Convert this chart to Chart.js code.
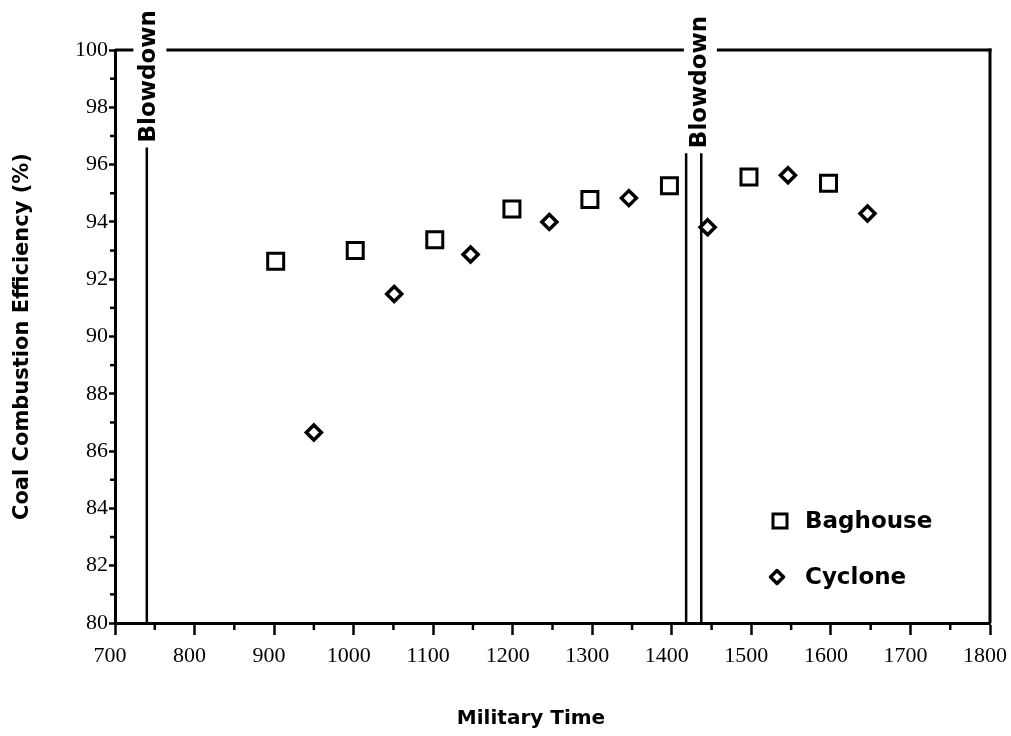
<!DOCTYPE html>
<html>
<head>
<meta charset="utf-8">
<script src="https://cdn.jsdelivr.net/npm/chart.js@4.4.0/dist/chart.umd.min.js"></script>
<style>
  body { margin: 0; background: #fff; }
  #wrap { width: 1011px; height: 736px; }
</style>
</head>
<body>
<div id="wrap"><canvas id="chart" width="1011" height="736"></canvas></div>
<script>
// axis ticks
const xTicks = [700, 800, 900, 1000, 1100, 1200, 1300, 1400, 1500, 1600, 1700, 1800];
const yTicks = [80, 82, 84, 86, 88, 90, 92, 94, 96, 98, 100];

// series
const seriesNames = ['Baghouse', 'Cyclone'];
const baghouseTime = [902, 1002, 1102, 1199, 1297, 1397, 1497, 1597];
const baghouseEff = [92.63, 93.0, 93.38, 94.45, 94.78, 95.26, 95.57, 95.35];
const cycloneTime = [950, 1051, 1147, 1246, 1346, 1445, 1546, 1646];
const cycloneEff = [86.65, 91.48, 92.86, 94.0, 94.83, 93.81, 95.63, 94.29];

// blowdown markers
const blowdownTime = [740, 1418, 1437];
const blowdownTop = [96.6, 96.4, 96.4];
const blowdownLabelTime = [742, 1434];
const blowdownLabelText = 'Blowdown';

const SANS = '"DejaVu Sans", sans-serif';
const SERIF = '"Liberation Serif", "Times New Roman", serif';

const toPts = (xs, ys) => xs.map((x, i) => ({ x: x, y: ys[i] }));

const blowdownSets = blowdownTime.map((t, i) => ({
  type: 'line',
  data: [{ x: t, y: 80 }, { x: t, y: blowdownTop[i] }],
  borderColor: '#000',
  borderWidth: 2.5,
  pointRadius: 0,
  showLine: true,
  fill: false
}));

const frame = {
  id: 'frame',
  afterDraw(chart) {
    const { ctx, chartArea: a, scales: { x, y } } = chart;
    ctx.save();
    ctx.strokeStyle = '#000';
    ctx.lineCap = 'butt';

    // minor ticks
    ctx.lineWidth = 2.5;
    for (let i = 0; i < xTicks.length - 1; i++) {
      const px = x.getPixelForValue((xTicks[i] + xTicks[i + 1]) / 2);
      ctx.beginPath(); ctx.moveTo(px, a.bottom); ctx.lineTo(px, a.bottom + 7); ctx.stroke();
    }
    for (let i = 0; i < yTicks.length - 1; i++) {
      const py = y.getPixelForValue((yTicks[i] + yTicks[i + 1]) / 2);
      ctx.beginPath(); ctx.moveTo(a.left - 5, py); ctx.lineTo(a.left, py); ctx.stroke();
    }

    // right border and broken top border
    ctx.lineWidth = 3;
    ctx.beginPath(); ctx.moveTo(a.right, a.top - 1.5); ctx.lineTo(a.right, a.bottom); ctx.stroke();
    const gaps = blowdownLabelTime.map(t => x.getPixelForValue(t));
    let sx = a.left;
    gaps.forEach(g => {
      ctx.beginPath(); ctx.moveTo(sx, a.top); ctx.lineTo(g - 15, a.top); ctx.stroke();
      sx = g + 18;
    });
    ctx.beginPath(); ctx.moveTo(sx, a.top); ctx.lineTo(a.right + 1.5, a.top); ctx.stroke();

    // blowdown labels
    ctx.fillStyle = '#000';
    ctx.font = 'bold 23px ' + SANS;
    ctx.textAlign = 'left';
    ctx.textBaseline = 'middle';
    blowdownLabelTime.forEach((t, i) => {
      const px = x.getPixelForValue(t);
      const top = i === 0 ? blowdownTop[0] : blowdownTop[1];
      const py = y.getPixelForValue(top) - 5;
      ctx.save();
      ctx.translate(px, py);
      ctx.rotate(-Math.PI / 2);
      ctx.fillText(blowdownLabelText, 0, 1);
      ctx.restore();
    });

    // legend
    ctx.font = 'bold 23px ' + SANS;
    ctx.lineWidth = 3;
    ctx.strokeRect(780 - 7, 521 - 7, 14, 14);
    ctx.fillText(seriesNames[0], 805, 522);
    ctx.lineWidth = 3.5;
    ctx.lineJoin = 'round';
    ctx.beginPath();
    ctx.moveTo(777, 577 - 6.5); ctx.lineTo(777 + 6.5, 577);
    ctx.lineTo(777, 577 + 6.5); ctx.lineTo(777 - 6.5, 577);
    ctx.closePath(); ctx.stroke();
    ctx.fillText(seriesNames[1], 805, 578);

    // x axis title
    ctx.font = 'bold 20px ' + SANS;
    ctx.textAlign = 'center';
    ctx.fillText('Military Time', 531, 719);
    ctx.restore();
  }
};

new Chart(document.getElementById('chart'), {
  type: 'scatter',
  data: {
    datasets: [
      {
        label: seriesNames[0],
        data: toPts(baghouseTime, baghouseEff),
        pointStyle: 'rect',
        pointRadius: 11.3,
        borderWidth: 3,
        borderColor: '#000',
        backgroundColor: '#fff'
      },
      {
        label: seriesNames[1],
        data: toPts(cycloneTime, cycloneEff),
        pointStyle: 'rectRot',
        pointRadius: 7.5,
        borderWidth: 3.5,
        borderColor: '#000',
        backgroundColor: '#fff'
      },
      ...blowdownSets
    ]
  },
  options: {
    responsive: false,
    animation: false,
    layout: { padding: { top: 50, right: 21, left: 0, bottom: 0 } },
    plugins: { legend: { display: false }, tooltip: { enabled: false } },
    scales: {
      x: {
        type: 'linear',
        min: 700,
        max: 1800,
        afterBuildTicks: s => { s.ticks = xTicks.map(v => ({ value: v })); },
        afterFit: s => { s.height = 113; s.paddingLeft = 0; s.paddingRight = 0; },
        grid: { drawOnChartArea: false, drawTicks: true, tickLength: 12, tickWidth: 2.5, tickColor: '#000' },
        border: { display: true, color: '#000', width: 3 },
        ticks: {
          color: '#000',
          padding: 8,
          labelOffset: -5,
          maxRotation: 0,
          font: { family: SERIF, size: 22 },
          callback: v => String(v)
        },
        title: { display: false }
      },
      y: {
        min: 80,
        max: 100,
        afterBuildTicks: s => { s.ticks = yTicks.map(v => ({ value: v })); },
        afterFit: s => { s.width = 115; },
        grid: { drawOnChartArea: false, drawTicks: true, tickLength: 6, tickWidth: 2.5, tickColor: '#000' },
        border: { display: true, color: '#000', width: 3 },
        ticks: {
          color: '#000',
          padding: 1,
          font: { family: SERIF, size: 22 },
          callback: v => String(v)
        },
        title: {
          display: true,
          text: 'Coal Combustion Efficiency (%)',
          color: '#000',
          font: { family: SANS, size: 21, weight: 'bold' },
          padding: { top: 10, bottom: 0 }
        }
      }
    }
  },
  plugins: [frame]
});
</script>
</body>
</html>
